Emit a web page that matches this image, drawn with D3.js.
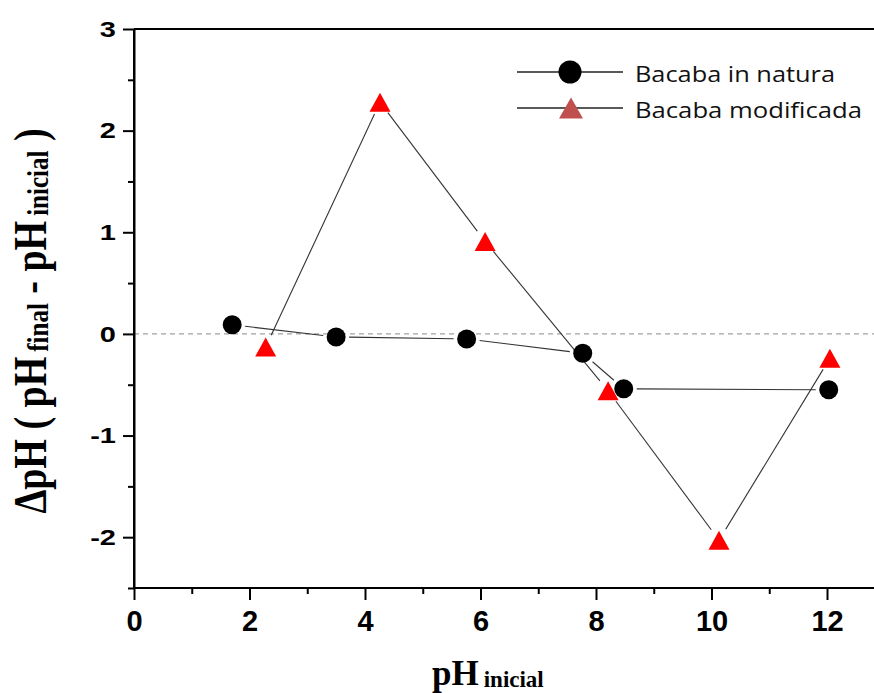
<!DOCTYPE html>
<html>
<head>
<meta charset="utf-8">
<script src="https://cdn.jsdelivr.net/npm/d3@7"></script>
<style>
  html, body { margin: 0; padding: 0; background: #fff; }
  svg { display: block; }
</style>
</head>
<body>
<svg id="chart" width="874" height="693"></svg>
<script>
// Point of zero charge data: ΔpH versus initial pH for the two adsorbents
const seriesNames = ["Bacaba in natura", "Bacaba modificada"];
const phInicialNatura = [1.70, 3.50, 5.76, 7.77, 8.48, 12.03];
const deltaNatura = [0.09, -0.03, -0.05, -0.19, -0.54, -0.55];
const phInicialModificada = [2.28, 4.26, 6.08, 8.21, 10.13, 12.05];
const deltaModificada = [-0.13, 2.28, 0.91, -0.56, -2.03, -0.24];

const xTicks = [0, 2, 4, 6, 8, 10, 12];
const xMinorTicks = [1, 3, 5, 7, 9, 11, 13];
const yTicks = [-2, -1, 0, 1, 2, 3];
const yMinorTicks = [-2.5, -1.5, -0.5, 0.5, 1.5, 2.5];

const W = 874, H = 693;
const svg = d3.select("#chart");

const x = d3.scaleLinear().domain([0, 13]).range([134, 134 + 13 * 57.75]);
const y = d3.scaleLinear().domain([-2.5, 3]).range([588, 29]);

const tickFont = "'Liberation Sans', Arial, sans-serif";
const labelFont = "'Liberation Serif', 'Times New Roman', serif";
const plainNumber = d => String(d);

// zero reference line
svg.append("line")
  .attr("x1", x(0)).attr("x2", W)
  .attr("y1", y(0)).attr("y2", y(0))
  .attr("stroke", "#8a8a8a").attr("stroke-width", 1)
  .attr("stroke-dasharray", "5,4");

// top frame line
svg.append("line")
  .attr("x1", x(0)).attr("x2", W)
  .attr("y1", y(3)).attr("y2", y(3))
  .attr("stroke", "#000").attr("stroke-width", 2);

// minor ticks (no labels)
const xMinor = svg.append("g")
  .attr("transform", `translate(0,${y(-2.5)})`)
  .call(d3.axisBottom(x).tickValues(xMinorTicks).tickSize(6).tickSizeOuter(0).tickFormat(""));
const yMinor = svg.append("g")
  .attr("transform", `translate(${x(0)},0)`)
  .call(d3.axisLeft(y).tickValues(yMinorTicks).tickSize(6).tickSizeOuter(0).tickFormat(""));

// major axes
const xAxis = svg.append("g")
  .attr("transform", `translate(0,${y(-2.5)})`)
  .call(d3.axisBottom(x).tickValues(xTicks).tickSize(12).tickSizeOuter(0).tickPadding(10).tickFormat(plainNumber));
const yAxis = svg.append("g")
  .attr("transform", `translate(${x(0)},0)`)
  .call(d3.axisLeft(y).tickValues(yTicks).tickSize(11).tickSizeOuter(0).tickPadding(7).tickFormat(plainNumber));

[xMinor, yMinor, xAxis, yAxis].forEach(g => {
  g.select(".domain").attr("stroke", "#000").attr("stroke-width", 2);
  g.selectAll(".tick line").attr("stroke", "#000").attr("stroke-width", 2);
});
xMinor.select(".domain").attr("d", `M${x(0)},0H${W}`);
xAxis.select(".domain").attr("d", `M${x(0)},0H${W}`);
yAxis.select(".domain").attr("d", `M0,${y(-2.5)}V${y(3)}`);

xAxis.selectAll(".tick text")
  .attr("font-family", tickFont).attr("font-weight", "bold")
  .attr("font-size", 29).attr("fill", "#000");
yAxis.selectAll(".tick text")
  .attr("font-family", tickFont).attr("font-weight", "bold")
  .attr("font-size", 29).attr("fill", "#000")
  .attr("transform", "scale(1,0.78)");

// connecting lines, trimmed short of each marker
function gapSegments(px, py, gap) {
  const segs = [];
  for (let i = 0; i < px.length - 1; i++) {
    const x1 = x(px[i]), y1 = y(py[i]), x2 = x(px[i + 1]), y2 = y(py[i + 1]);
    const len = Math.hypot(x2 - x1, y2 - y1);
    const ux = (x2 - x1) / len, uy = (y2 - y1) / len;
    segs.push({ x1: x1 + ux * gap, y1: y1 + uy * gap, x2: x2 - ux * gap, y2: y2 - uy * gap });
  }
  return segs;
}

function drawLines(px, py) {
  svg.append("g").selectAll("line")
    .data(gapSegments(px, py, 13))
    .join("line")
    .attr("x1", d => d.x1).attr("y1", d => d.y1)
    .attr("x2", d => d.x2).attr("y2", d => d.y2)
    .attr("stroke", "#333").attr("stroke-width", 1.1);
}
drawLines(phInicialNatura, deltaNatura);
drawLines(phInicialModificada, deltaModificada);

// triangle centred on its bounding box
function triPath(w, h) {
  return `M0,${-h / 2}L${w / 2},${h / 2}L${-w / 2},${h / 2}Z`;
}

svg.append("g").selectAll("circle")
  .data(d3.zip(phInicialNatura, deltaNatura))
  .join("circle")
  .attr("cx", d => x(d[0])).attr("cy", d => y(d[1]))
  .attr("r", 9.5).attr("fill", "#000");

svg.append("g").selectAll("path")
  .data(d3.zip(phInicialModificada, deltaModificada))
  .join("path")
  .attr("transform", d => `translate(${x(d[0])},${y(d[1])})`)
  .attr("d", triPath(21, 19))
  .attr("fill", "#ff0000");

// legend
const legend = svg.append("g");
const legendRows = [
  { name: seriesNames[0], cy: 72, shape: "circle", len: 200 },
  { name: seriesNames[1], cy: 108, shape: "triangle", len: 227 }
];
legendRows.forEach(r => {
  legend.append("line")
    .attr("x1", 517).attr("x2", 623).attr("y1", r.cy).attr("y2", r.cy)
    .attr("stroke", "#222").attr("stroke-width", 1.3);
  if (r.shape === "circle") {
    legend.append("circle").attr("cx", 570).attr("cy", r.cy).attr("r", 11.5).attr("fill", "#000");
  } else {
    legend.append("path").attr("transform", `translate(571,${r.cy})`)
      .attr("d", triPath(24, 21)).attr("fill", "#c0504d");
  }
  legend.append("text")
    .attr("x", 635).attr("y", r.cy + 9.5)
    .attr("font-family", "'Open Sans', Lato, sans-serif")
    .attr("font-size", 21).attr("fill", "#111")
    .attr("textLength", r.len).attr("lengthAdjust", "spacingAndGlyphs")
    .text(r.name);
});

// x axis title
const xt = svg.append("text")
  .attr("x", 432).attr("y", 685)
  .attr("font-family", labelFont).attr("font-weight", "bold").attr("fill", "#000");
xt.append("tspan").attr("font-size", 35).text("pH");
xt.append("tspan").attr("font-size", 23).attr("dx", 5).attr("dy", 2).text("inicial");

// y axis title
const yt = svg.append("g")
  .attr("transform", "translate(46,321) rotate(-90) scale(1,1.2)")
  .append("text")
  .attr("text-anchor", "middle")
  .attr("font-family", labelFont).attr("font-weight", "bold").attr("fill", "#000");
yt.append("tspan").attr("font-size", 38).text("\u0394pH ( pH");
yt.append("tspan").attr("font-size", 25).attr("dx", 5).attr("dy", 2).text("final");
yt.append("tspan").attr("font-size", 38).attr("dy", -2).text(" - pH");
yt.append("tspan").attr("font-size", 25).attr("dx", 5).attr("dy", 2).text("inicial");
yt.append("tspan").attr("font-size", 38).attr("dy", -2).text(" )");
</script>
</body>
</html>
